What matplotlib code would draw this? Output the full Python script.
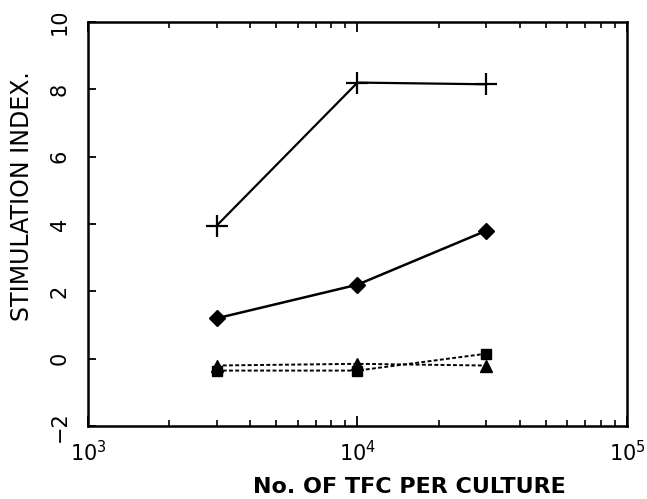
import matplotlib
matplotlib.use("Agg")
import matplotlib.pyplot as plt
import numpy as np

# データ
tfc = [3000, 10000, 30000]
plus_vals = [3.95, 8.2, 8.15]
diamond_vals = [1.2, 2.2, 3.8]
triangle_vals = [-0.2, -0.15, -0.2]
square_vals = [-0.35, -0.35, 0.15]

plt.rcParams['font.family'] = ['DejaVu Sans']

fig = plt.figure(figsize=(6.47, 4.99), dpi=100)
ax = fig.add_axes([0.136, 0.146, 0.833, 0.81])

ax.plot(tfc, plus_vals, color="black", lw=1.6, marker="+", ms=16, mew=1.6)
ax.plot(tfc, diamond_vals, color="black", lw=1.8, marker="D", ms=8)
ax.plot(tfc, triangle_vals, color="black", lw=1.4, ls=(0, (2, 1.2)), marker="^", ms=9)
ax.plot(tfc, square_vals, color="black", lw=1.4, ls=(0, (2, 1.2)), marker="s", ms=7)

ax.set_xscale("log")
ax.set_xlim(1e3, 1e5)
ax.set_ylim(-2, 10)
ax.set_yticks([-2, 0, 2, 4, 6, 8, 10])
ax.set_yticklabels(["\u22122", "0", "2", "4", "6", "8", "10"], rotation=90, va="center")

for s in ax.spines.values():
    s.set_linewidth(1.8)

ax.tick_params(axis="y", which="major", direction="in", length=6, width=1.3,
               labelsize=15, pad=13, right=False)
ax.tick_params(axis="x", which="major", direction="in", length=7, width=1.3,
               labelsize=15, pad=10, top=True)
ax.tick_params(axis="x", which="minor", direction="in", length=4, width=1.2, top=True)

ax.set_ylabel("STIMULATION INDEX.", fontsize=17, va="center")
ax.yaxis.set_label_coords(-0.122, 0.57)
ax.set_xlabel("No. OF TFC PER CULTURE", fontsize=16, fontweight="bold", va="center")
ax.xaxis.set_label_coords(0.597, -0.151)

fig.savefig("out.png", dpi=100)
